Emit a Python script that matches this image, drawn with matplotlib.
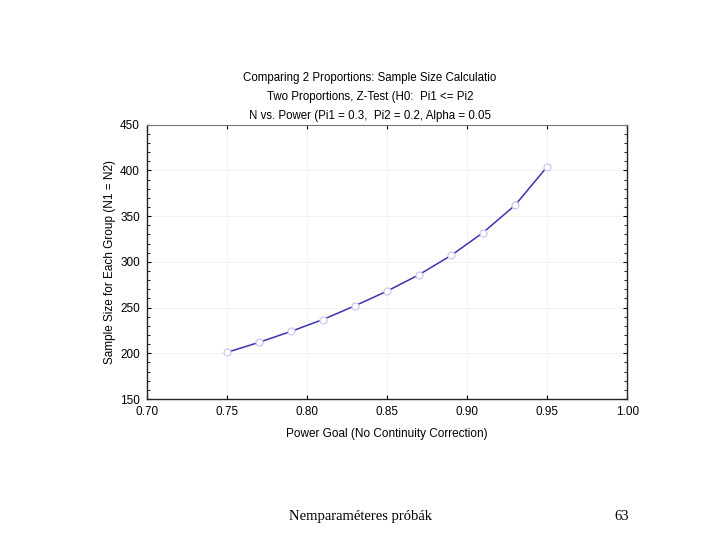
import numpy as np
import matplotlib.pyplot as plt
from matplotlib.ticker import MultipleLocator

power = [0.75, 0.77, 0.79, 0.81, 0.83, 0.85, 0.87, 0.89, 0.91, 0.93, 0.95]
n_size = [201, 212, 224, 237, 252, 268, 286, 307, 332, 362, 404]

title_lines = ["Comparing 2 Proportions: Sample Size Calculatio",
               "Two Proportions, Z-Test (H0:  Pi1 <= Pi2",
               "N vs. Power (Pi1 = 0.3,  Pi2 = 0.2, Alpha = 0.05"]

plt.rcParams['font.family'] = ['Liberation Sans', 'DejaVu Sans']

fig = plt.figure(figsize=(7.2, 5.4), dpi=100)
ax = fig.add_axes([0.204, 0.261, 0.667, 0.508])

ax.plot(power, n_size, color='#3a33b0', lw=1.1, marker='o', ms=5,
        mfc='white', mec='#c8c8ee', mew=0.9, zorder=3)

ax.set_xlim(0.70, 1.00)
ax.set_ylim(150, 450)
ax.xaxis.set_major_locator(MultipleLocator(0.05))
ax.yaxis.set_major_locator(MultipleLocator(50))
ax.yaxis.set_minor_locator(MultipleLocator(10))
ax.xaxis.set_major_formatter(plt.FormatStrFormatter('%.2f'))
ax.tick_params(direction='in', which='both', top=True, right=True,
               labelsize=8.5, length=3, width=0.8, pad=5)
ax.tick_params(which='minor', length=2, width=0.6)
ax.grid(True, which='major', color='#f2f2f2', lw=0.7)
ax.set_axisbelow(True)

for s in ['left', 'right', 'bottom']:
    ax.spines[s].set_color('#222222')
    ax.spines[s].set_linewidth(1.0)
ax.spines['top'].set_color('#777777')

ax.set_xlabel('Power Goal (No Continuity Correction)', fontsize=8.5, labelpad=7)
ax.set_ylabel('Sample Size for Each Group (N1 = N2)', fontsize=8.5, labelpad=3)

for i, t in enumerate(title_lines):
    fig.text(0.514, 0.855 - i * 0.035, t, ha='center', va='center', fontsize=8.3)

fig.text(0.501, 0.043, 'Nemparaméteres próbák', ha='center', va='center',
         fontsize=10.5, family=['Liberation Serif', 'DejaVu Serif'])
fig.text(0.864, 0.043, '63', ha='center', va='center',
         fontsize=10.5, family=['Liberation Serif', 'DejaVu Serif'])

fig.savefig('out.png', dpi=100)
